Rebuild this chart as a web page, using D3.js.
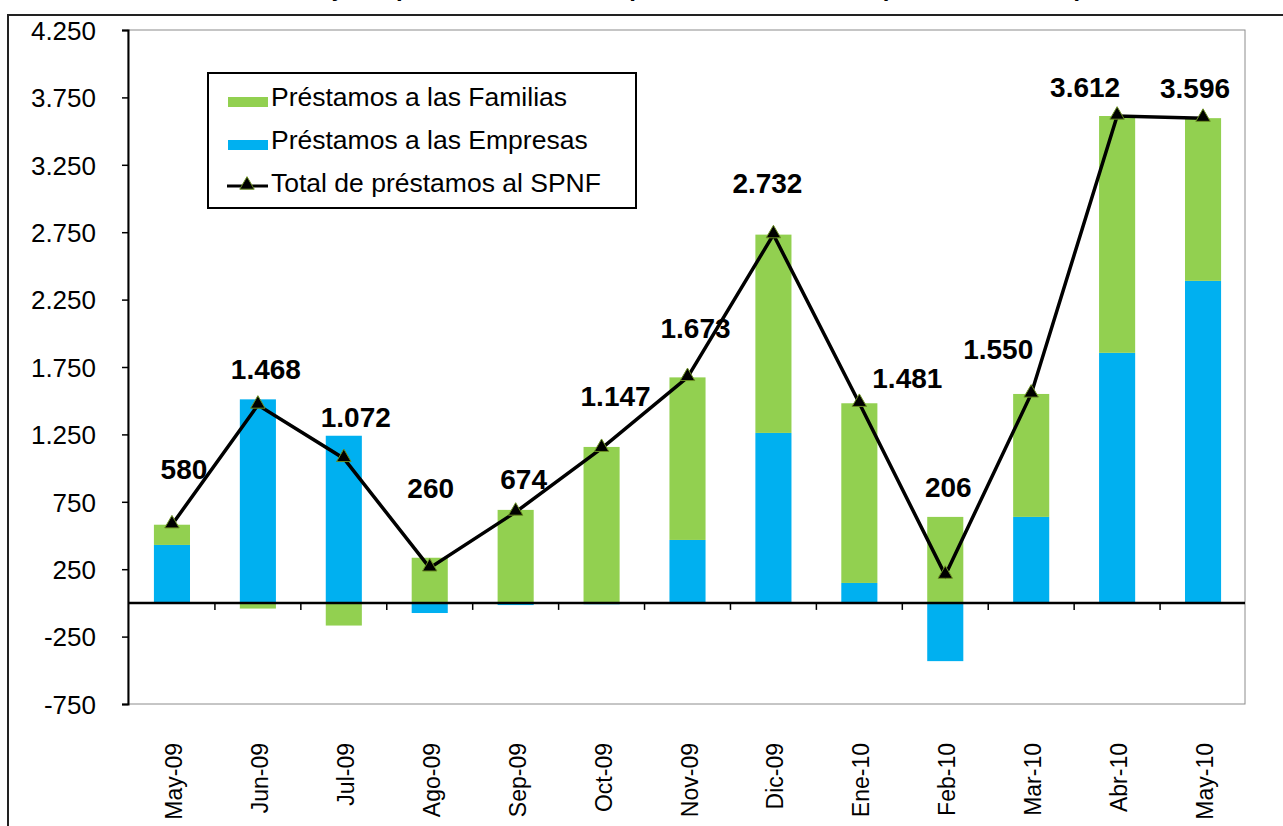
<!DOCTYPE html>
<html>
<head>
<meta charset="utf-8">
<script src="https://cdn.jsdelivr.net/npm/d3@7"></script>
<style>
  body { margin: 0; background: #fff; }
  svg { display: block; font-family: "Liberation Sans", Arial, sans-serif; }
</style>
</head>
<body>
<svg id="chart" width="1283" height="826"></svg>
<script>
// --- Data ---
const months = ["May-09","Jun-09","Jul-09","Ago-09","Sep-09","Oct-09","Nov-09","Dic-09","Ene-10","Feb-10","Mar-10","Abr-10","May-10"];
const empresas = [430, 1510, 1240, -75, -16, -10, 467, 1261, 148, -432, 638, 1855, 2389];
const familias = [150, -42, -168, 335, 690, 1157, 1206, 1471, 1333, 638, 912, 1757, 1207];
const totales  = [580, 1468, 1072, 260, 674, 1147, 1673, 2732, 1481, 206, 1550, 3612, 3596];
const yTicks = [-750, -250, 250, 750, 1250, 1750, 2250, 2750, 3250, 3750, 4250];

// label nudges (px) – placed by hand in the original
const labelDx = [12, 8, 12, 1, 8, 14, 8, -6, 48, 3, -33, -32, -8];
const labelDy = [-46, -26, -31, -70, -23, -42, -39, -42, -15, -78, -35, -19, -20];

const GREEN = "#92D050", BLUE = "#00B0F0";
const fmt = d3.formatLocale({decimal: ",", thousands: ".", grouping: [3], currency: ["$",""], minus: "-"}).format(",d");

const svg = d3.select("#chart");
const plot = {left: 128, right: 1245, top: 30, bottom: 704};

// outer frame + clipped title
svg.append("path").attr("d", "M8,826 V15 H1283").attr("fill", "none").attr("stroke", "#222").attr("stroke-width", 2);
svg.append("text").attr("x", 690).attr("y", -4).attr("text-anchor", "middle")
  .attr("font-size", 24).attr("font-weight", "bold")
  .text("Flujo de préstamos al sector privado no financiero (en millones de $)");

const x = d3.scaleBand().domain(months).range([plot.left + 1, plot.right + 1]).paddingInner(0.58).paddingOuter(0.29);
const y = d3.scaleLinear().domain([-750, 4250]).range([plot.bottom, plot.top]);

// plot area border
svg.append("rect").attr("x", plot.left).attr("y", plot.top)
  .attr("width", plot.right - plot.left).attr("height", plot.bottom - plot.top)
  .attr("fill", "none").attr("stroke", "#8c8c8c").attr("stroke-width", 1);

// y axis
const yAxis = svg.append("g").attr("transform", `translate(${plot.left},0)`)
  .call(d3.axisLeft(y).tickValues(yTicks).tickSize(6).tickPadding(26).tickFormat(fmt));
yAxis.attr("font-family", null).attr("font-size", null);
yAxis.select(".domain").attr("stroke", "#000").attr("stroke-width", 2);
yAxis.selectAll(".tick line").attr("stroke", "#000").attr("stroke-width", 1.5);
yAxis.selectAll("text").attr("font-size", 26).attr("fill", "#000").attr("dy", "0.36em");

// bars
const rows = months.map((m, i) => ({month: m, empresas: empresas[i], familias: familias[i]}));
const series = d3.stack().keys(["empresas", "familias"]).offset(d3.stackOffsetDiverging)(rows);
const colors = {empresas: BLUE, familias: GREEN};
svg.append("g").selectAll("g").data(series).join("g")
  .attr("fill", d => colors[d.key])
  .selectAll("rect").data(d => d).join("rect")
  .attr("x", d => x(d.data.month))
  .attr("width", x.bandwidth())
  .attr("y", d => y(Math.max(d[0], d[1])))
  .attr("height", d => Math.abs(y(d[0]) - y(d[1])));

// zero line with category ticks
const xAxis = svg.append("g").attr("transform", `translate(0,${y(0)})`);
xAxis.append("line").attr("x1", plot.left).attr("x2", plot.right).attr("stroke", "#000").attr("stroke-width", 2.5);
const step = x.step();
xAxis.selectAll("line.tk").data(months.slice(1)).join("line").attr("class", "tk")
  .attr("x1", d => x(d) + x.bandwidth() / 2 - step / 2)
  .attr("x2", d => x(d) + x.bandwidth() / 2 - step / 2)
  .attr("y1", 0).attr("y2", 7).attr("stroke", "#000").attr("stroke-width", 1.5);

// category labels
svg.append("g").selectAll("text").data(months).join("text")
  .attr("transform", d => `translate(${x(d) + x.bandwidth() / 2 + 10},743) rotate(-90)`)
  .attr("text-anchor", "end").attr("font-size", 23).attr("fill", "#000")
  .text(d => d);

// total line
const cx = i => x(months[i]) + x.bandwidth() / 2;
const line = d3.line().x((d, i) => cx(i)).y(d => y(d));
svg.append("path").datum(totales).attr("d", line)
  .attr("fill", "none").attr("stroke", "#000").attr("stroke-width", 3.5);
const tri = d3.symbol().type(d3.symbolTriangle).size(90);
svg.append("g").selectAll("path").data(totales).join("path")
  .attr("d", tri)
  .attr("transform", (d, i) => `translate(${cx(i)},${y(d) - 1})`)
  .attr("fill", "#000").attr("stroke", "#6b8e23").attr("stroke-width", 1);

// data labels
svg.append("g").selectAll("text").data(totales).join("text")
  .attr("x", (d, i) => cx(i) + labelDx[i])
  .attr("y", (d, i) => y(d) + labelDy[i])
  .attr("text-anchor", "middle").attr("font-size", 28).attr("font-weight", "bold").attr("fill", "#000")
  .text(d => fmt(d));

// legend
const lg = svg.append("g");
lg.append("rect").attr("x", 208).attr("y", 73).attr("width", 428).attr("height", 135)
  .attr("fill", "#fff").attr("stroke", "#000").attr("stroke-width", 2);
const legendItems = [
  {label: "Préstamos a las Familias", type: "bar", color: GREEN},
  {label: "Préstamos a las Empresas", type: "bar", color: BLUE},
  {label: "Total de préstamos al SPNF", type: "line"}
];
legendItems.forEach((it, i) => {
  const base = 106 + i * 43;
  if (it.type === "bar") {
    lg.append("rect").attr("x", 228).attr("y", base - 9).attr("width", 40).attr("height", 10).attr("fill", it.color);
  } else {
    lg.append("line").attr("x1", 227).attr("x2", 268).attr("y1", base - 6).attr("y2", base - 6).attr("stroke", "#000").attr("stroke-width", 3);
    lg.append("path").attr("d", tri).attr("transform", `translate(247,${base - 7})`).attr("fill", "#000").attr("stroke", "#6b8e23");
  }
  lg.append("text").attr("x", 271).attr("y", base).attr("font-size", 26.5).attr("fill", "#000").text(it.label);
});
</script>
</body>
</html>
